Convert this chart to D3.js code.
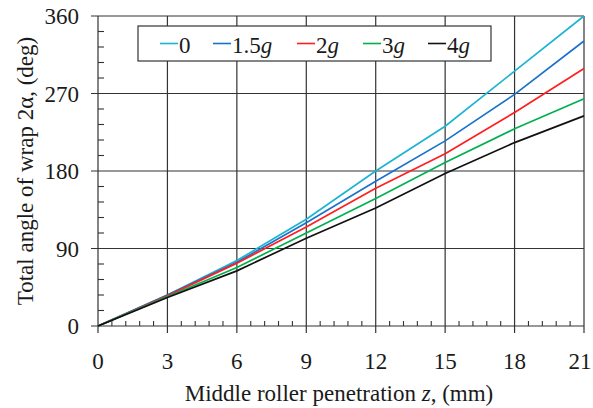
<!DOCTYPE html>
<html><head><meta charset="utf-8">
<script src="https://cdn.jsdelivr.net/npm/d3@7"></script>
<style>
html,body{margin:0;padding:0;background:#fff;}
</style></head>
<body><svg id="c" width="593" height="408"></svg>
<script>
const zValues = [0, 3, 6, 9, 12, 15, 18, 21];
const seriesNames = ["0", "1.5", "2", "3", "4"];
const seriesHasG = [false, true, true, true, true];
const seriesColors = ["#1db4d2", "#1a72cc", "#ff1f1f", "#00b050", "#111111"];
const wrap0 = [0, 36, 76, 124, 180, 232, 296, 360];
const wrap15g = [0, 36, 74, 120, 168, 215, 269, 331];
const wrap2g = [0, 35, 73, 115, 160, 200, 248, 299];
const wrap3g = [0, 34, 68, 108, 148, 190, 229, 264];
const wrap4g = [0, 33, 64, 102, 137, 177, 213, 244];
const seriesValues = [wrap0, wrap15g, wrap2g, wrap3g, wrap4g];
const xTicks = [0, 3, 6, 9, 12, 15, 18, 21];
const yTicks = [0, 90, 180, 270, 360];
const xTitle = "Middle roller penetration ";
const yTitle = "Total angle of wrap 2\u03b1, (deg)";

const FONT = "'Liberation Serif', 'Times New Roman', serif";
const svg = d3.select("#c");
const W = 593;
const L = 98, R = 584, T = 16, B = 326;
const x = d3.scaleLinear().domain([0, 21]).range([L, R]);
const y = d3.scaleLinear().domain([0, 360]).range([B, T]);
const gridColor = "#333";
const txtColor = "#1a1a1a";

// grid
const g = svg.append("g");
g.selectAll(".vx").data(xTicks).join("line")
  .attr("x1", d => x(d)).attr("x2", d => x(d)).attr("y1", T).attr("y2", B + 7)
  .attr("stroke", gridColor).attr("stroke-width", 1.2);
g.selectAll(".hy").data(yTicks).join("line")
  .attr("y1", d => y(d)).attr("y2", d => y(d)).attr("x1", L - 7).attr("x2", R)
  .attr("stroke", gridColor).attr("stroke-width", 1.2);

// minor ticks
const xMinor = d3.range(0, 21.001, 0.6).filter(v => Math.abs(v / 3 - Math.round(v / 3)) > 0.01);
g.selectAll(".mx").data(xMinor).join("line")
  .attr("x1", d => x(d)).attr("x2", d => x(d)).attr("y1", B).attr("y2", B - 5)
  .attr("stroke", gridColor).attr("stroke-width", 1.1);
const yMinor = d3.range(0, 360.001, 18).filter(v => v % 90 !== 0);
g.selectAll(".my").data(yMinor).join("line")
  .attr("y1", d => y(d)).attr("y2", d => y(d)).attr("x1", L).attr("x2", L + 6)
  .attr("stroke", gridColor).attr("stroke-width", 1.1);

// series
const line = d3.line().x((d, i) => x(zValues[i])).y(d => y(d));
svg.append("g").selectAll("path").data(seriesValues).join("path")
  .attr("d", d => line(d)).attr("fill", "none")
  .attr("stroke", (d, i) => seriesColors[i]).attr("stroke-width", 1.7);

// tick labels (keep the last one inside the picture)
svg.append("g").selectAll("text").data(xTicks).join("text")
  .attr("x", d => Math.min(x(d), W - 13)).attr("y", 369).attr("text-anchor", "middle")
  .style("font-family", FONT).attr("fill", txtColor)
  .attr("font-size", 23).text(d => d);
svg.append("g").selectAll("text").data(yTicks).join("text")
  .attr("x", 79).attr("y", d => y(d)).attr("dy", "0.35em").attr("text-anchor", "end")
  .style("font-family", FONT).attr("fill", txtColor)
  .attr("font-size", 23).text(d => d);

// axis titles
const xt = svg.append("text").attr("x", 339).attr("y", 401).attr("text-anchor", "middle")
  .style("font-family", FONT).attr("fill", txtColor).attr("font-size", 23);
xt.append("tspan").text(xTitle);
xt.append("tspan").attr("font-style", "italic").text("z");
xt.append("tspan").text(", (mm)");
svg.append("text").attr("transform", "translate(33,171) rotate(-90)")
  .style("font-family", FONT).attr("fill", txtColor)
  .attr("text-anchor", "middle").attr("font-size", 23).text(yTitle);

// legend
const lg = svg.append("g");
lg.append("rect").attr("x", 138).attr("y", 26).attr("width", 353).attr("height", 35)
  .attr("fill", "#fff").attr("stroke", "#333").attr("stroke-width", 1.2);
const legX = [160, 213, 297, 363, 428];
seriesNames.forEach((n, i) => {
  lg.append("line").attr("x1", legX[i]).attr("x2", legX[i] + 18).attr("y1", 43.5).attr("y2", 43.5)
    .attr("stroke", seriesColors[i]).attr("stroke-width", 1.6);
  const t = lg.append("text").attr("x", legX[i] + 19).attr("y", 52.5).attr("font-size", 23)
    .style("font-family", FONT).attr("fill", txtColor);
  t.append("tspan").text(n);
  if (seriesHasG[i]) t.append("tspan").attr("font-style", "italic").text("g");
});
</script></body></html>
